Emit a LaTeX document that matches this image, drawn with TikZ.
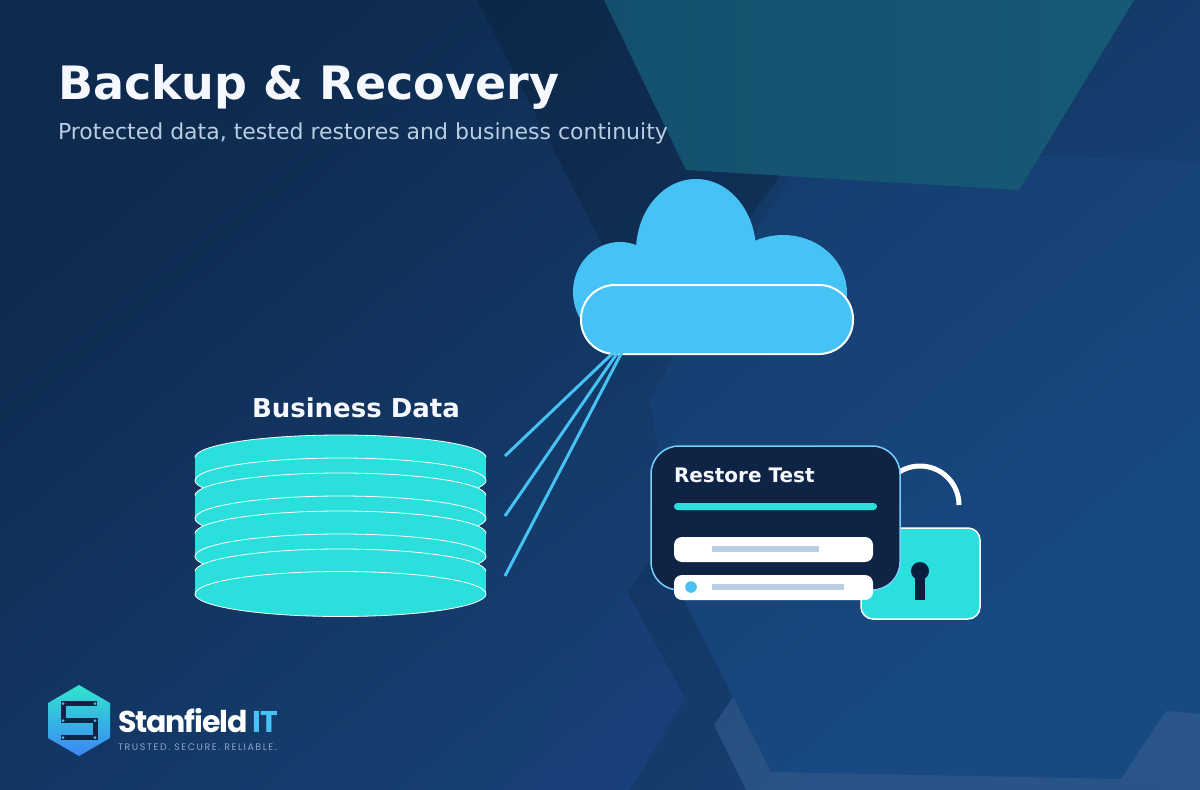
\documentclass[tikz,border=0pt]{standalone}
\usepackage{fontspec}
\setmainfont{DejaVu Sans}
\newfontfamily\logofont{Poppins}
\usepackage{tikz}
\definecolor{bgdark}{HTML}{0E2A4E}
\definecolor{bgmid}{HTML}{14396A}
\definecolor{bglight}{HTML}{194880}
\definecolor{aqua}{HTML}{2ADFDC}
\definecolor{sky}{HTML}{47C2F5}
\definecolor{navy}{HTML}{0F2345}
\definecolor{keyink}{HTML}{0A1F40}
\definecolor{mist}{HTML}{B9CDE3}
\definecolor{snow}{HTML}{F5F8FF}
\definecolor{tealL}{HTML}{14506D}
\definecolor{tealR}{HTML}{165A76}
\definecolor{hexblue}{HTML}{1A4E8C}
\definecolor{hexviolet}{HTML}{1B3C80}
\definecolor{logotop}{HTML}{2FE6CF}
\definecolor{logobot}{HTML}{3D85F5}

\begin{document}
\begin{tikzpicture}[x=1pt, y=-1pt, inner sep=0pt, outer sep=0pt]
    \tikzstyle{heading}=[anchor=base west, text=snow, font=\bfseries\fontsize{46}{46}\selectfont]
    \tikzstyle{subhead}=[anchor=base west, text=mist, font=\fontsize{22}{22}\selectfont]
    \tikzstyle{label}=[anchor=base west, text=snow, font=\bfseries\fontsize{26}{26}\selectfont]
    \tikzstyle{disk}=[fill=aqua, draw=white, line width=0.8pt]
    \tikzstyle{diskbody}=[fill=aqua]
    \tikzstyle{link}=[draw=sky, line width=3pt]
    \tikzstyle{pill}=[rectangle, fill=white, rounded corners=8pt, minimum width=199pt, minimum height=25pt]
    \tikzstyle{greybar}=[rectangle, fill=mist, minimum height=6pt]

    \useasboundingbox (0,0) rectangle (1200,790);
    \shade[top color=bgdark, middle color=bgmid, bottom color=bglight, shading angle=40] (0,0) rectangle (1200,790);

    \fill[black, opacity=0.14] (477,0) -- (900,0) -- (700,320) -- (620,280) -- cycle;
    \fill[hexblue, opacity=0.3] (800,147) -- (1040,155.7) -- (1200,162) -- (1200,790) -- (1121,779) -- (771,772) -- (684,600) -- (650,400) -- (745,225) -- cycle;
    \shade[left color=tealL, right color=tealR] (604,0) -- (1134,0) -- (1019,190) -- (686,170) -- cycle;
    \fill[black, opacity=0.1] (650,560) -- (627,592) -- (685,698) -- (630,790) -- (746,790) -- (714,725) -- (733,697) -- (684,600) -- (680,545) -- cycle;
    \fill[hexviolet, opacity=0.4] (503,790) -- (627,592) -- (685,698) -- (630,790) -- cycle;
    \fill[white, opacity=0.07] (746,790) -- (714,725) -- (733,697) -- (771,772) -- (1121,779) -- (1166,711) -- (1200,714) -- (1200,790) -- cycle;

    \node[heading] (title) at (58,99) {Backup \& Recovery};
    \node[subhead] (subtitle) at (58,139) {Protected data, tested restores and business continuity};

    \fill[sky] (696,251) ellipse [x radius=60, y radius=72];
    \fill[sky] (620,292) ellipse [x radius=47, y radius=50];
    \fill[sky] (783,293) ellipse [x radius=64, y radius=58];
    \node[rectangle, fill=sky, draw=white, line width=2pt, rounded corners=34pt, minimum width=272pt, minimum height=69pt] (cloud) at (717,319.5) {};

    \node[label] (datalabel) at (252,417) {Business Data};

    \fill[diskbody] (195,457.5) rectangle (486,480.5);
    \fill[diskbody] (340.5,457.5) ellipse [x radius=145.5, y radius=22.5];
    \draw[disk] (340.5,480.5) ellipse [x radius=145.5, y radius=22.5];
    \draw[white, line width=0.8pt] (195,457.5) arc [start angle=180, end angle=360, x radius=145.5, y radius=22.5];

    \fill[diskbody] (195,495.5) rectangle (486,518.5);
    \fill[diskbody] (340.5,495.5) ellipse [x radius=145.5, y radius=22.5];
    \draw[disk] (340.5,518.5) ellipse [x radius=145.5, y radius=22.5];
    \draw[white, line width=0.8pt] (195,495.5) arc [start angle=180, end angle=360, x radius=145.5, y radius=22.5];

    \fill[diskbody] (195,533.5) rectangle (486,556.5);
    \fill[diskbody] (340.5,533.5) ellipse [x radius=145.5, y radius=22.5];
    \draw[disk] (340.5,556.5) ellipse [x radius=145.5, y radius=22.5];
    \draw[white, line width=0.8pt] (195,533.5) arc [start angle=180, end angle=360, x radius=145.5, y radius=22.5];

    \fill[diskbody] (195,571.5) rectangle (486,594);
    \fill[diskbody] (340.5,571.5) ellipse [x radius=145.5, y radius=22.5];
    \draw[disk] (340.5,594) ellipse [x radius=145.5, y radius=22.5];
    \draw[white, line width=0.8pt] (195,571.5) arc [start angle=180, end angle=360, x radius=145.5, y radius=22.5];

    \coordinate (D1) at (505,456);
    \coordinate (D2) at (505,516);
    \coordinate (D3) at (505,576);
    \coordinate (C1) at (614,352);
    \coordinate (C2) at (618,352);
    \coordinate (C3) at (622,352);
    \draw[link] (D1) to (C1);
    \draw[link] (D2) to (C2);
    \draw[link] (D3) to (C3);

    \draw[white, line width=5pt] (881,505) arc [start angle=180, end angle=360, radius=39];
    \node[rectangle, fill=aqua, draw=white, line width=1.5pt, rounded corners=12pt, minimum width=119pt, minimum height=91pt] (lock) at (920.5,573.5) {};
    \fill[keyink] (920,571) circle [radius=9];
    \node[rectangle, fill=keyink, minimum width=10pt, minimum height=29pt] (keyslot) at (920,585.5) {};

    \node[rectangle, fill=navy, draw=sky!75!white, line width=1.5pt, rounded corners=28pt, minimum width=249pt, minimum height=144pt] (card) at (775.5,518) {};
    \node[anchor=base west, text=snow, font=\bfseries\fontsize{20}{20}\selectfont] (cardtitle) at (674,482) {Restore Test};
    \node[rectangle, fill=aqua, rounded corners=3.5pt, minimum width=203pt, minimum height=7pt] (cardbar) at (775.5,506.5) {};
    \node[pill] (row1) at (773.5,549.5) {};
    \node[pill] (row2) at (773.5,587.5) {};
    \node[greybar, minimum width=107pt] (row1bar) at (765.5,549) {};
    \node[greybar, minimum width=132pt] (row2bar) at (778,587) {};
    \fill[sky] (691,587) circle [radius=5.8];

    \shade[top color=logotop, bottom color=logobot] (79,685) -- (110,703) -- (110,738) -- (79,756) -- (48,738) -- (48,703) -- cycle;
    \draw[navy, line width=5pt] (97.3,703.5) -- (63,703.5) -- (63,720.5) -- (95,720.5) -- (95,737.5) -- (60.7,737.5);
    \fill[sky] (63,703.5) circle [radius=1.5];
    \fill[sky] (95,703.5) circle [radius=1.5];
    \fill[sky] (63,720.5) circle [radius=1.5];
    \fill[sky] (95,720.5) circle [radius=1.5];
    \fill[sky] (63,737.5) circle [radius=1.5];
    \fill[sky] (95,737.5) circle [radius=1.5];

    \node[anchor=base west, text=white, font=\logofont\bfseries\fontsize{30}{30}\selectfont\addfontfeature{LetterSpace=-3.7}] (brand) at (118,732) {Stanfield};
    \node[anchor=base west, text=sky, font=\logofont\bfseries\fontsize{30}{30}\selectfont] (brandit) at (252,732) {IT};
    \node[anchor=base west, text=mist!70!bglight, font=\logofont\fontsize{9.5}{9.5}\selectfont\addfontfeature{LetterSpace=16}] (tagline) at (118,750) {TRUSTED. SECURE. RELIABLE.};
\end{tikzpicture}
\end{document}
